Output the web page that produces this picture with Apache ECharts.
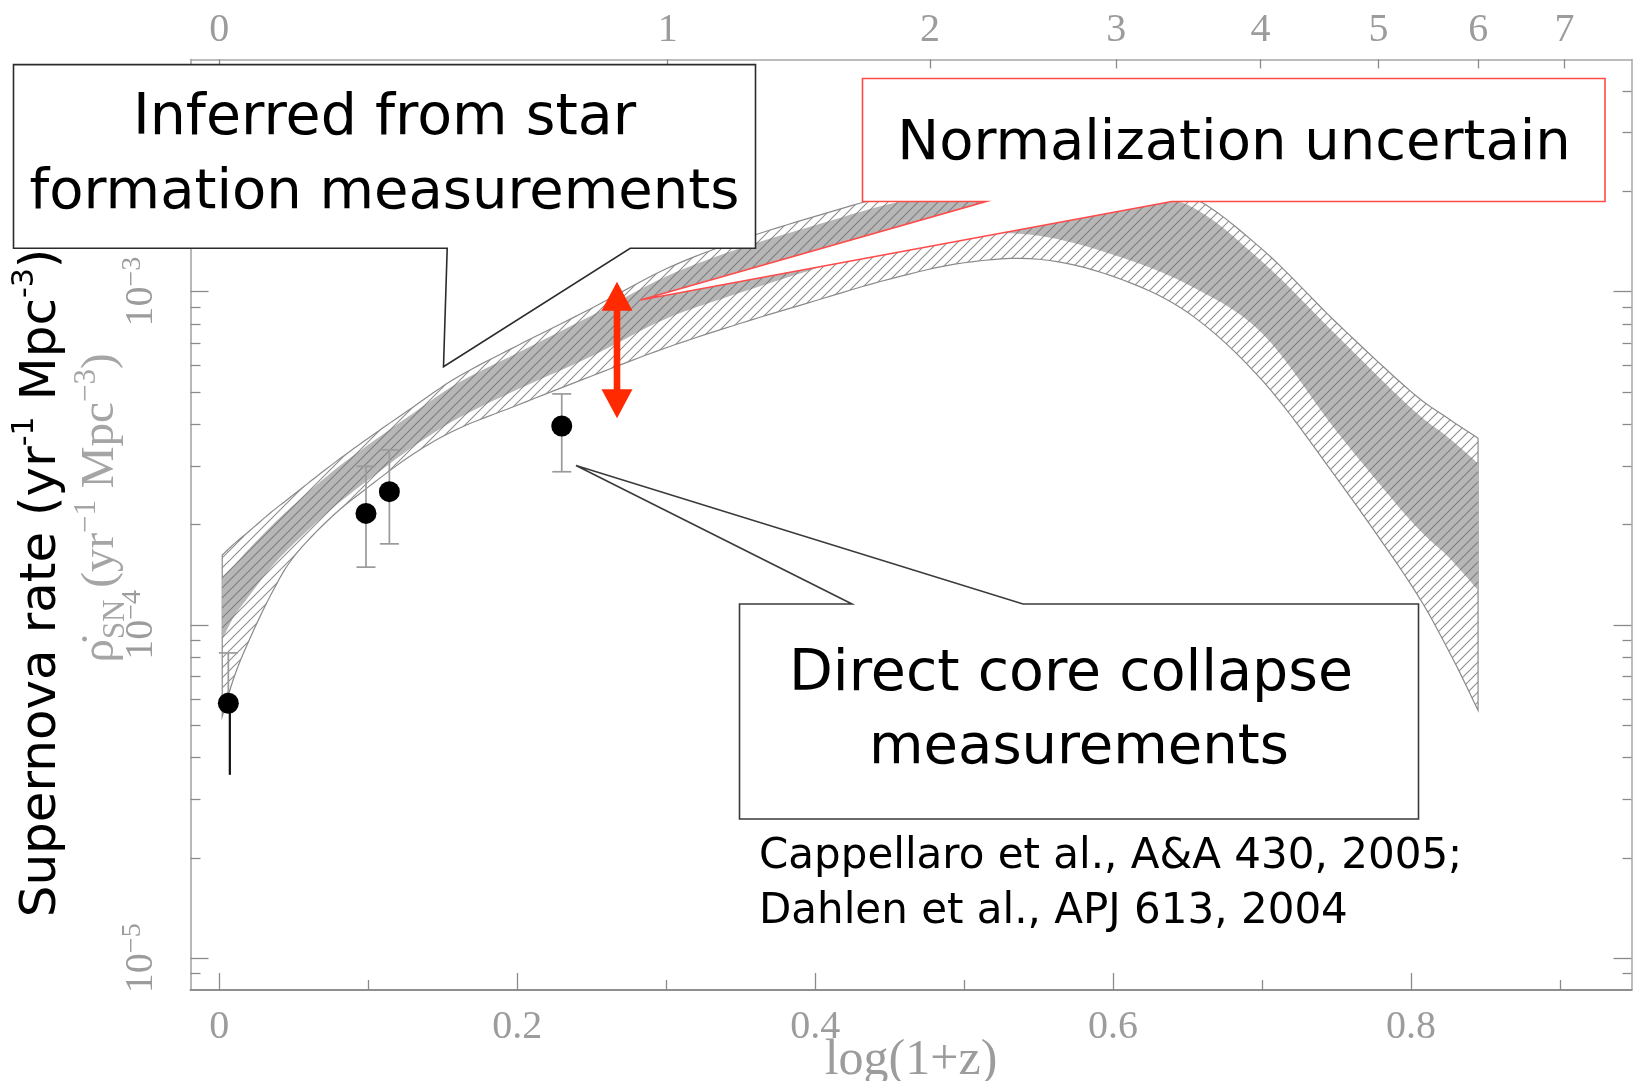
<!DOCTYPE html>
<html>
<head>
<meta charset="utf-8">
<title>Supernova rate vs redshift</title>
<script src="https://cdn.jsdelivr.net/npm/echarts@6/dist/echarts.min.js"></script>
<style>
html, body { margin: 0; padding: 0; background: #ffffff; }
#chart { width: 1633px; height: 1081px; }
</style>
</head>
<body>
<div id="chart"></div>
<script>
// Horizontal coordinate: log10(1 + z)
const bandX = [0.002, 0.01, 0.02, 0.035, 0.05, 0.075, 0.1, 0.13, 0.16, 0.2, 0.25, 0.3,
               0.35, 0.4, 0.45, 0.5, 0.55, 0.6, 0.65, 0.7, 0.75, 0.8, 0.825, 0.845];

// Rate inferred from star formation (yr^-1 Mpc^-3): full hatched envelope
const outerUpper = [1.62e-4, 1.75e-4, 1.91e-4, 2.18e-4, 2.46e-4, 3.01e-4, 3.63e-4, 4.50e-4,
                    5.54e-4, 6.88e-4, 8.91e-4, 1.17e-3, 1.43e-3, 1.68e-3, 1.94e-3, 2.13e-3,
                    2.19e-3, 2.11e-3, 1.95e-3, 1.34e-3, 8.06e-4, 5.01e-4, 4.16e-4, 3.63e-4];
const outerLower = [5.31e-5, 6.98e-5, 8.98e-5, 1.24e-4, 1.60e-4, 2.10e-4, 2.59e-4, 3.25e-4,
                    3.87e-4, 4.56e-4, 5.58e-4, 6.78e-4, 8.03e-4, 9.38e-4, 1.09e-3, 1.22e-3,
                    1.25e-3, 1.11e-3, 8.66e-4, 5.42e-4, 2.76e-4, 1.32e-4, 8.41e-5, 5.54e-5];

// Inner (shaded) envelope
const coreUpper = [1.39e-4, 1.51e-4, 1.69e-4, 1.98e-4, 2.29e-4, 2.86e-4, 3.47e-4, 4.31e-4,
                   5.31e-4, 6.54e-4, 8.48e-4, 1.11e-3, 1.35e-3, 1.58e-3, 1.83e-3, 2.01e-3,
                   2.07e-3, 1.98e-3, 1.82e-3, 1.23e-3, 7.39e-4, 4.47e-4, 3.65e-4, 3.05e-4];
const coreLower = [9.04e-5, 1.06e-4, 1.22e-4, 1.49e-4, 1.75e-4, 2.22e-4, 2.72e-4, 3.42e-4,
                   4.16e-4, 5.08e-4, 6.40e-4, 8.29e-4, 9.93e-4, 1.17e-3, 1.37e-3, 1.49e-3,
                   1.47e-3, 1.29e-3, 1.05e-3, 7.50e-4, 3.81e-4, 2.05e-4, 1.60e-4, 1.27e-4];

// Direct core-collapse measurements
const pointX    = [0.0061, 0.0985, 0.1142, 0.2299];
const pointRate = [5.82e-5, 2.16e-4, 2.51e-4, 3.95e-4];
const pointHigh = [8.24e-5, 2.99e-4, 3.35e-4, 4.93e-4];
const pointLow  = [3.55e-5, 1.49e-4, 1.75e-4, 2.88e-4];

// Normalization arrow: [log(1+z), upper rate, lower rate]
const normArrow = [0.267, 1.07e-3, 4.17e-4];

// Ticks
const redshiftTicks = [0, 1, 2, 3, 4, 5, 6, 7];
const logTicks = [0, 0.2, 0.4, 0.6, 0.8];
const logMinorTicks = [0.1, 0.3, 0.5, 0.7, 0.9];
const rateDecades = [1e-5, 1e-4, 1e-3];
const rateMinorTicks = [9e-6, 2e-5, 3e-5, 4e-5, 5e-5, 6e-5, 7e-5, 8e-5, 9e-5,
                        2e-4, 3e-4, 4e-4, 5e-4, 6e-4, 7e-4, 8e-4, 9e-4, 2e-3, 3e-3, 4e-3];

const X_MIN = -0.0193, X_MAX = 0.948;
const Y_MIN = 8.03e-6, Y_MAX = 4.97e-3;

const AXIS_GRAY = '#9c9c9c';
const SERIF = '"Liberation Serif", "DejaVu Serif", serif';
const HAND = '"DejaVu Sans", sans-serif';

// diagonal hatch tile
function hatch(bg, line) {
  const s = 10;
  const c = document.createElement('canvas');
  c.width = s; c.height = s;
  const g = c.getContext('2d');
  g.fillStyle = bg;
  g.fillRect(0, 0, s, s);
  g.strokeStyle = line;
  g.lineWidth = 1.1;
  g.beginPath();
  g.moveTo(-2, s + 2); g.lineTo(s + 2, -2);
  g.moveTo(-2, 2); g.lineTo(2, -2);
  g.moveTo(s - 2, s + 2); g.lineTo(s + 2, s - 2);
  g.stroke();
  return { image: c, repeat: 'repeat' };
}
const whiteHatch = hatch('#ffffff', '#8e8e8e');
const grayHatch = hatch('#b7b7b7', '#7e7e7e');

// Catmull-Rom pass through projected edge points, so the edges render as curves
function spline(pts) {
  const out = [];
  const n = pts.length;
  for (let i = 0; i < n - 1; i++) {
    const p0 = pts[Math.max(i - 1, 0)], p1 = pts[i], p2 = pts[i + 1], p3 = pts[Math.min(i + 2, n - 1)];
    const steps = 8;
    for (let k = 0; k < steps; k++) {
      const t = k / steps, t2 = t * t, t3 = t2 * t;
      const f = (a, b, c, d) => 0.5 * ((2 * b) + (-a + c) * t + (2 * a - 5 * b + 4 * c - d) * t2 + (-a + 3 * b - 3 * c + d) * t3);
      out.push([f(p0[0], p1[0], p2[0], p3[0]), f(p0[1], p1[1], p2[1], p3[1])]);
    }
  }
  out.push(pts[n - 1]);
  return out;
}

function bandSeries(lower, upper, fill, stroke, z) {
  return {
    type: 'custom', xAxisIndex: 0, yAxisIndex: 0, z: z, silent: true,
    data: [[bandX[0]]],
    renderItem: function (params, api) {
      const up = bandX.map((x, i) => api.coord([x, upper[i]]));
      const lo = bandX.map((x, i) => api.coord([x, lower[i]]));
      const pts = spline(up).concat(spline(lo).reverse());
      return {
        type: 'polygon', shape: { points: pts },
        style: { fill: fill, stroke: stroke, lineWidth: stroke ? 1.2 : 0 }
      };
    }
  };
}

function tickAxisX(pos, ticks, len, extra) {
  return Object.assign({
    type: 'value', position: pos, min: X_MIN, max: X_MAX,
    axisLine: { show: false, onZero: false },
    axisTick: { show: true, inside: true, length: len, customValues: ticks,
                lineStyle: { color: '#8a8a8a', width: 1.3 } },
    axisLabel: { show: false },
    splitLine: { show: false }
  }, extra || {});
}
function tickAxisY(pos, ticks, len, extra) {
  return Object.assign({
    type: 'log', logBase: 10, position: pos, min: Y_MIN, max: Y_MAX,
    axisLine: { show: false, onZero: false },
    axisTick: { show: true, inside: true, length: len, customValues: ticks,
                lineStyle: { color: '#8a8a8a', width: 1.3 } },
    axisLabel: { show: false },
    splitLine: { show: false }
  }, extra || {});
}

const chart = echarts.init(document.getElementById('chart'), null, { renderer: 'canvas' });

const option = {
  backgroundColor: '#ffffff',
  animation: false,
  grid: { left: 190.5, right: 1.5, top: 59.4, bottom: 91, containLabel: false, outerBoundsMode: 'none' },
  xAxis: [
    tickAxisX('bottom', logTicks, 17, {
      axisLine: { show: true, onZero: false, lineStyle: { color: '#8f8f8f', width: 2 } },
      axisLabel: { show: true, customValues: logTicks, margin: 17, color: AXIS_GRAY,
                   fontFamily: SERIF, fontSize: 40, formatter: v => String(v) },
      name: 'log(1+z)', nameLocation: 'middle', nameGap: 46, nameMoveOverlap: false,
      nameTextStyle: { color: AXIS_GRAY, fontFamily: SERIF, fontSize: 50 }
    }),
    tickAxisX('bottom', logMinorTicks, 10),
    tickAxisX('top', redshiftTicks.map(z => Math.log10(1 + z)), 9, {
      axisLine: { show: true, onZero: false, lineStyle: { color: '#a8a8a8', width: 1.5 } },
      axisLabel: { show: true, customValues: redshiftTicks.map(z => Math.log10(1 + z)),
                   margin: 9, color: AXIS_GRAY, fontFamily: SERIF, fontSize: 40,
                   formatter: v => String(Math.round(Math.pow(10, v) - 1)) }
    })
  ],
  yAxis: [
    tickAxisY('left', rateDecades, 18, {
      axisLine: { show: true, onZero: false, lineStyle: { color: '#a0a0a0', width: 1.5 } },
      axisLabel: {
        show: true, customValues: rateDecades, rotate: 90, margin: 26,
        formatter: v => '{b|10}{s|\u2212' + (-Math.round(Math.log10(v))) + '}',
        rich: {
          b: { fontFamily: SERIF, fontSize: 40, color: AXIS_GRAY, lineHeight: 46 },
          s: { fontFamily: SERIF, fontSize: 28, color: AXIS_GRAY, lineHeight: 26, verticalAlign: 'top' }
        }
      }
    }),
    tickAxisY('left', rateMinorTicks, 10),
    tickAxisY('right', rateDecades, 18, {
      axisLine: { show: true, onZero: false, lineStyle: { color: '#a8a8a8', width: 1.5 } }
    }),
    tickAxisY('right', rateMinorTicks, 9)
  ],
  series: [
    bandSeries(outerLower, outerUpper, whiteHatch, '#8a8a8a', 2),
    bandSeries(coreLower, coreUpper, grayHatch, null, 3),
    {
      // error bars
      type: 'custom', xAxisIndex: 0, yAxisIndex: 0, z: 4, silent: true,
      data: pointX.map((x, i) => [x, pointRate[i], pointHigh[i], pointLow[i]]),
      renderItem: function (params, api) {
        const x = api.value(0);
        const c = api.coord([x, api.value(1)]);
        const hi = api.coord([x, api.value(2)]);
        const lo = api.coord([x, api.value(3)]);
        const cap = 9.5;
        const gray = { stroke: '#9a9a9a', lineWidth: 1.7 };
        const kids = [
          { type: 'line', shape: { x1: c[0], y1: c[1], x2: hi[0], y2: hi[1] }, style: gray },
          { type: 'line', shape: { x1: hi[0] - cap, y1: hi[1], x2: hi[0] + cap, y2: hi[1] }, style: gray }
        ];
        if (params.dataIndex === 0) {
          kids.push({ type: 'line', shape: { x1: c[0] + 1.5, y1: c[1], x2: lo[0] + 1.5, y2: lo[1] },
                      style: { stroke: '#111', lineWidth: 2.2 } });
        } else {
          kids.push({ type: 'line', shape: { x1: c[0], y1: c[1], x2: lo[0], y2: lo[1] }, style: gray });
          kids.push({ type: 'line', shape: { x1: lo[0] - cap, y1: lo[1], x2: lo[0] + cap, y2: lo[1] }, style: gray });
        }
        return { type: 'group', children: kids };
      }
    },
    {
      type: 'scatter', xAxisIndex: 0, yAxisIndex: 0, z: 5, silent: true,
      symbol: 'circle', symbolSize: 21,
      itemStyle: { color: '#000000', opacity: 1 },
      data: pointX.map((x, i) => [x, pointRate[i]])
    }
  ],
  graphic: [
    // callout: star-formation band
    { type: 'polygon', z: 100, silent: true,
      shape: { points: [[13.5, 64.6], [755.5, 64.6], [755.5, 248.3], [630.2, 248.3],
                        [443.5, 366.7], [447.2, 248.3], [13.5, 248.3]] },
      style: { fill: '#ffffff', stroke: '#2b2b2b', lineWidth: 1.6 } },
    { type: 'text', z: 101, silent: true, x: 384.5, y: 119,
      style: { text: 'Inferred from star', fontFamily: HAND, fontSize: 57, fill: '#000',
               align: 'center', verticalAlign: 'middle' } },
    { type: 'text', z: 101, silent: true, x: 384.5, y: 193.5,
      style: { text: 'formation measurements', fontFamily: HAND, fontSize: 56, fill: '#000',
               align: 'center', verticalAlign: 'middle' } },

    // callout: normalization
    { type: 'polygon', z: 100, silent: true,
      shape: { points: [[862.5, 78.5], [1605, 78.5], [1605, 201.5], [1171.7, 201.5],
                        [640.5, 300], [986, 201.5], [862.5, 201.5]] },
      style: { fill: '#ffffff', stroke: '#ff4a4a', lineWidth: 1.6 } },
    { type: 'text', z: 101, silent: true, x: 1234, y: 144.5,
      style: { text: 'Normalization uncertain', fontFamily: HAND, fontSize: 56, fill: '#000',
               align: 'center', verticalAlign: 'middle' } },

    // callout: direct measurements
    { type: 'polygon', z: 100, silent: true,
      shape: { points: [[739.5, 604], [852, 604], [576, 465.5], [1023, 604], [1418.5, 604],
                        [1418.5, 819], [739.5, 819]] },
      style: { fill: '#ffffff', stroke: '#3a3a3a', lineWidth: 1.6 } },
    { type: 'text', z: 101, silent: true, x: 1071, y: 675.5,
      style: { text: 'Direct core collapse', fontFamily: HAND, fontSize: 57, fill: '#000',
               align: 'center', verticalAlign: 'middle' } },
    { type: 'text', z: 101, silent: true, x: 1079, y: 748.5,
      style: { text: 'measurements', fontFamily: HAND, fontSize: 56, fill: '#000',
               align: 'center', verticalAlign: 'middle' } },

    // references
    { type: 'text', z: 101, silent: true, x: 759, y: 857.5,
      style: { text: 'Cappellaro et al., A&A 430, 2005;', fontFamily: HAND, fontSize: 42, fill: '#000',
               align: 'left', verticalAlign: 'middle' } },
    { type: 'text', z: 101, silent: true, x: 759, y: 912,
      style: { text: 'Dahlen et al., APJ 613, 2004', fontFamily: HAND, fontSize: 42, fill: '#000',
               align: 'left', verticalAlign: 'middle' } },

    // vertical axis titles
    { type: 'text', z: 101, silent: true, x: 101, y: 508, rotation: Math.PI / 2,
      style: { text: '\u03C1\u0307{sub|SN} (yr{sup|\u22121} Mpc{sup|\u22123})',
               fontFamily: SERIF, fontSize: 47, fill: '#a5a5a5', lineHeight: 60,
               align: 'center', verticalAlign: 'middle',
               rich: {
                 sub: { fontFamily: SERIF, fontSize: 31, fill: '#a5a5a5', lineHeight: 32, verticalAlign: 'bottom' },
                 sup: { fontFamily: SERIF, fontSize: 31, fill: '#a5a5a5', lineHeight: 32, verticalAlign: 'top' }
               } } },
    { type: 'text', z: 101, silent: true, x: 42, y: 583, rotation: Math.PI / 2,
      style: { text: 'Supernova rate (yr{sup|-1} Mpc{sup|-3})',
               fontFamily: HAND, fontSize: 50, fill: '#000', lineHeight: 64,
               align: 'center', verticalAlign: 'middle',
               rich: {
                 sup: { fontFamily: HAND, fontSize: 30, fill: '#000', lineHeight: 34, verticalAlign: 'top' }
               } } }
  ]
};

// normalization arrow, placed on the rate axes
option.series.push({
  type: 'custom', xAxisIndex: 0, yAxisIndex: 0, z: 6, silent: true,
  data: [normArrow],
  renderItem: function (params, api) {
    const top = api.coord([api.value(0), api.value(1)]);
    const bot = api.coord([api.value(0), api.value(2)]);
    const hl = 29, hw = 15.5;
    const red = '#ff2a00';
    return {
      type: 'group',
      children: [
        { type: 'rect', shape: { x: top[0] - 3.3, y: top[1] + hl - 2, width: 6.6, height: bot[1] - top[1] - 2 * hl + 4 },
          style: { fill: red } },
        { type: 'polygon', shape: { points: [[top[0], top[1]], [top[0] - hw, top[1] + hl], [top[0] + hw, top[1] + hl]] },
          style: { fill: red } },
        { type: 'polygon', shape: { points: [[bot[0], bot[1]], [bot[0] - hw, bot[1] - hl], [bot[0] + hw, bot[1] - hl]] },
          style: { fill: red } }
      ]
    };
  }
});

chart.setOption(option);
</script>
</body>
</html>
